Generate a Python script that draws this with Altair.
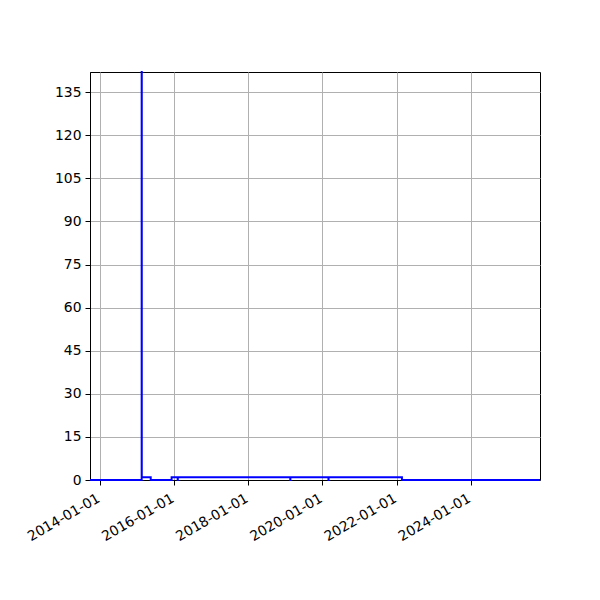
import altair as alt
import pandas as pd

dates = ["2013-09-25", "2015-02-16", "2015-02-17", "2015-05-16", "2015-12-08",
         "2016-02-06", "2016-02-07", "2019-02-19", "2019-02-20", "2020-03-01",
         "2020-03-02", "2022-02-23", "2025-11-14"]
values = [0, 142, 1, 0, 1, 0, 1, 0, 1, 0, 1, 0, 0]
tick_years = [2014, 2016, 2018, 2020, 2022, 2024]
y_ticks = list(range(0, 136, 15))

df = pd.DataFrame({"date": dates, "value": values})

chart = alt.Chart(df).mark_line(
    interpolate="step-after", color="#0000ff", strokeWidth=2, clip=False
).encode(
    x=alt.X("date:T",
            scale=alt.Scale(type="utc",
                            domain=[alt.DateTime(year=2013, month=9, date=25, utc=True),
                                    alt.DateTime(year=2025, month=11, date=14, utc=True)]),
            axis=alt.Axis(values=[alt.DateTime(year=y, month=1, date=1, utc=True) for y in tick_years],
                          labelExpr="utcFormat(datum.value, '%Y-%m-%d')",
                          labelAngle=-30, labelAlign="right", labelBaseline="top",
                          labelOffset=-5, labelPadding=6,
                          labelOverlap=False, title=None)),
    y=alt.Y("value:Q", scale=alt.Scale(domain=[0, 142], nice=False, zero=True),
            axis=alt.Axis(values=y_ticks, title=None, labelPadding=4)),
).properties(
    width=450, height=408,
    autosize=alt.AutoSizeParams(type="none"),
    padding={"left": 82, "top": 64, "right": 52, "bottom": 112},
).configure_axis(
    grid=True, gridColor="#b0b0b0", gridWidth=1,
    domainColor="black", domainWidth=1,
    tickColor="black", tickSize=5, tickWidth=1,
    labelFont="DejaVu Sans", labelFontSize=13.9, labelColor="black",
).configure_view(stroke="black", strokeWidth=1)

chart.save("out.html", embed_options={"renderer": "svg", "actions": False})
